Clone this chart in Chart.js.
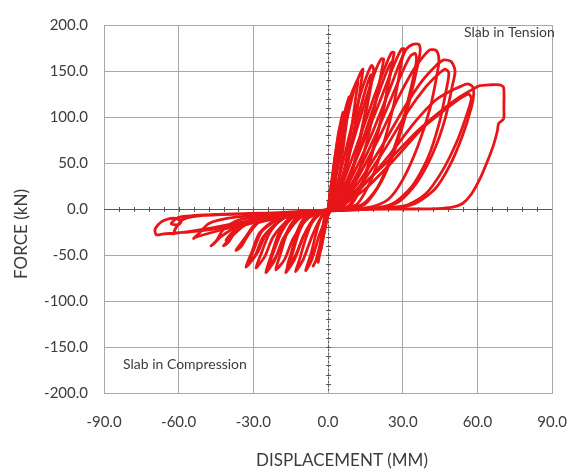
<!DOCTYPE html>
<html>
<head>
<meta charset="utf-8">
<script src="https://cdn.jsdelivr.net/npm/chart.js@4.4.1/dist/chart.umd.min.js"></script>
<style>
    html, body { margin: 0; padding: 0; background: #ffffff; }
    canvas { display: block; }
</style>
</head>
<body>
<canvas id="chart" width="587" height="472"></canvas>
<script>
// axis ticks
const xTicks = [-90, -60, -30, 0, 30, 60, 90];
const yTicks = [-200, -150, -100, -50, 0, 50, 100, 150, 200];

// loops, displacement (mm) / force (kN), in test order
const c1x = [0, 0.8, 1.5, 1.2, 0.3, -0.3, -1, -0.6, 0];
const c1y = [0, 18, 30, 20, 0, -5, -15, -6, 0];

const c2x = [0, 1.2, 2.3, 3, 2.6, 1.5, 0.6, -0.5, -1.6, -2, -1.4, -0.5, 0];
const c2y = [0, 25, 48, 60, 50, 20, 0, -8, -24, -30, -18, -4, 0];

const c3x = [0, 1.6, 3.2, 4.2, 4.5, 3.8, 2.3, 1, -0.6, -2.2, -3, -2.4, -1.2, 0];
const c3y = [0, 30, 65, 80, 85, 70, 30, 0, -10, -35, -45, -30, -8, 0];

const c4x = [0.2, 2, 4, 5.5, 6, 5.2, 3.5, 1.6, -0.5, -2.6, -3.7, -4, -3.2, -1.5, 0.2];
const c4y = [0, 38, 80, 100, 105, 88, 45, 2, -10, -40, -54, -58, -40, -10, 0];

const c5x = [0.3, 2.5, 5, 7.3, 8.5, 8, 6, 3.5, 1.5, -1, -2.5, -4.8, -6, -4.2, -1.5, 0.5];
const c5y = [0, 40, 85, 112, 122, 108, 65, 20, 0, -6, -30, -55, -62, -52, -25, 0];

const c6x = [0.5, 3, 6, 9, 11.2, 12, 11.3, 9, 6, 3, 1, -2, -4, -6.8, -9, -6.5, -3.5, -0.5, 0.5];
const c6y = [0, 40, 88, 122, 137, 140, 125, 80, 35, 5, 0, -6, -18, -48, -67, -55, -28, -8, 0];

const c7x = [0.5, 3.5, 7, 10.5, 13, 14, 13.4, 11, 7.5, 4, 1.5, -3, -6, -9, -11.5, -13, -10, -6.5, -3, 0.5];
const c7y = [0, 40, 90, 130, 148, 152, 140, 95, 45, 10, 0, -5, -12, -32, -55, -68, -55, -30, -10, 0];

const c8x = [1, 5, 9, 13, 16, 17.5, 18.3, 17.5, 14.5, 10.5, 7, 4, -2, -8, -11.5, -14.5, -17, -13.5, -10, -5, 1];
const c8y = [0, 40, 85, 125, 148, 156, 152, 138, 95, 50, 18, 2, -3, -8, -24, -50, -69, -55, -30, -8, 0];

const c8bx = [2, 6, 10, 13.5, 16, 17.3, 17, 14.5, 11, 7.5, 4.5, -3, -9, -12.5, -14.8, -16.5, -13, -9.5, -4, 2];
const c8by = [0, 35, 78, 115, 138, 146, 135, 100, 55, 20, 3, -3, -8, -25, -48, -63, -50, -28, -7, 0];

const c9x = [1, 6, 11, 15.5, 19, 21.3, 22.3, 21.5, 18.5, 14.5, 10.5, 6, -3, -12, -16, -19, -21, -17.5, -14, -8, -2, 1];
const c9y = [0, 38, 82, 122, 150, 163, 163, 150, 108, 62, 25, 3, -3, -8, -22, -48, -66, -55, -32, -10, -3, 0];

const c10x = [1.5, 7, 13, 18.5, 23, 25.5, 26.5, 25.5, 22.5, 18, 13.5, 8, -3, -15, -19.5, -22.8, -25, -21.5, -18, -12, -3, 1.5];
const c10y = [0, 36, 80, 122, 155, 170, 170, 156, 112, 65, 28, 3, -3, -9, -25, -50, -69, -56, -32, -10, -3, 0];

const c10bx = [2.5, 8, 14, 19, 23, 25, 25.8, 25, 22, 17.5, 13, 8.5, -3, -14, -18.5, -21.8, -24, -20.5, -17, -11, -3, 2.5];
const c10by = [0, 33, 76, 116, 146, 158, 160, 147, 105, 58, 22, 3, -3, -9, -24, -46, -63, -50, -29, -9, -3, 0];

const c11x = [2, 8, 15, 21.5, 26.5, 29.5, 30.5, 29.5, 26.5, 22, 17, 11, -3, -18, -23.5, -26.8, -29, -25.5, -22, -15, -4, 2];
const c11y = [0, 33, 78, 122, 157, 174, 174, 160, 115, 68, 30, 4, -3, -10, -26, -48, -64, -52, -30, -10, -3, 0];

const c12x = [2, 9, 17, 24, 29, 31.5, 34, 36.5, 37, 35.5, 31.5, 26.5, 21, 14, -4, -20, -27.5, -30.8, -33, -29.5, -26, -18, -5, 2];
const c12y = [0, 32, 78, 125, 160, 174, 179, 179, 172, 150, 105, 62, 28, 4, -3, -10, -26, -48, -63, -52, -30, -10, -3, 0];

const c12bx = [3, 10, 18, 25, 30, 33, 35, 35.5, 34, 30, 25, 19.5, 13, -4, -19, -26.5, -29.8, -31.8, -28.3, -24.8, -17, -5, 3];
const c12by = [0, 30, 74, 118, 150, 166, 169, 162, 140, 96, 55, 22, 4, -3, -10, -24, -44, -58, -47, -27, -9, -3, 0];

const c13x = [3, 11, 20, 28, 34, 38, 41, 43.5, 44.5, 44, 41, 36, 30, 24, 17, -5, -18, -29, -33, -36, -37, -35, -32, -28, -18, -5, 3];
const c13y = [0, 30, 75, 120, 150, 165, 173, 172, 163, 150, 110, 68, 32, 10, 2, -3, -9, -16, -30, -41, -45, -41, -28, -15, -8, -3, 0];

const c14x = [3, 12, 22, 31, 38, 43, 46.5, 49.5, 51, 50, 47, 42, 35.5, 28.5, 21, -6, -20, -33, -38, -41, -42, -40, -37, -32, -20, -6, 3];
const c14y = [0, 28, 70, 112, 140, 155, 162, 160, 150, 135, 98, 60, 28, 8, 1, -3, -9, -17, -28, -37, -40, -36, -24, -13, -7, -3, 0];

const c14bx = [4, 13, 23, 32, 39, 44, 47, 48.5, 47.5, 44.5, 40, 33.5, 26, 18, -8, -22, -34, -39, -41, -39, -35, -28, -15, -4, 4];
const c14by = [0, 26, 66, 106, 132, 146, 152, 148, 130, 92, 55, 24, 6, 1, -3, -9, -15, -27, -34, -30, -18, -10, -6, -2, 0];

const c15x = [4, 14, 25, 35, 43, 49, 53, 56, 58, 58.5, 57.5, 54, 49, 43, 35, 26, -7, -22, -37, -43, -46, -47, -45, -42, -36, -22, -7, 4];
const c15y = [0, 25, 60, 95, 118, 128, 133, 136, 133, 125, 110, 80, 48, 22, 6, 1, -3, -10, -20, -30, -38, -40, -35, -22, -12, -7, -3, 0];

const c16x = [4, 15, 27, 38, 47, 53, 56.5, 57.5, 56, 52, 46, 39, 30, -8, -25, -42, -50, -53.5, -54, -52, -48, -40, -25, -8, 4];
const c16y = [0, 22, 55, 88, 108, 120, 125, 120, 105, 75, 42, 16, 3, -3, -11, -22, -28, -31, -32, -27, -16, -10, -6, -3, 0];

const c17x = [4, -10, -28, -46, -56, -61, -62, -61, -58, -50, -30, -10, 0, -12, -30, -50, -60, -66, -69, -69.5, -67, -62, -59, -60, -63, -60, -45, -20, 0];
const c17y = [0, -4, -12, -22, -25, -26, -27, -20, -11, -7, -5, -3, -1, -5, -12, -22, -26, -27, -28, -22, -14, -10, -13, -17, -16, -9, -6, -4, -1];

const c18x = [0, 2, 12, 24, 36, 46, 53, 58, 61, 65, 69, 70.5, 70.6, 70.5, 68.5, 68, 66.5, 64, 61, 57.5, 54, 50, 44, 30, 15];
const c18y = [-1, 0, 22, 52, 85, 108, 122, 130, 134, 135, 135, 132, 110, 98, 93, 85, 70, 52, 33, 16, 6, 2, 0.5, 0, 0];

const cyclesX = [c1x, c2x, c3x, c4x, c5x, c6x, c7x, c8x, c8bx, c9x, c10x, c10bx, c11x, c12x, c12bx, c13x, c14x, c14bx, c15x, c16x, c17x, c18x];
const cyclesY = [c1y, c2y, c3y, c4y, c5y, c6y, c7y, c8y, c8by, c9y, c10y, c10by, c11y, c12y, c12by, c13y, c14y, c14by, c15y, c16y, c17y, c18y];

const lineRed = '#e81618';
const gridGray = '#a8a8a8';
const textGray = '#3c3c3c';
const fontFamily = 'Lato, "Open Sans", sans-serif';

const datasets = cyclesX.map((xs, i) => ({
    data: xs.map((x, j) => ({ x, y: cyclesY[i][j] })),
    showLine: true,
    borderColor: lineRed,
    borderWidth: 2.8,
    pointRadius: 0,
    tension: 0.25,
    fill: false,
}));

// dark zero axes with minor ticks, like the spreadsheet default
const zeroAxes = {
    id: 'zeroAxes',
    beforeDatasetsDraw(chart) {
        const { ctx, scales: { x, y } } = chart;
        const x0 = x.getPixelForValue(0);
        const y0 = y.getPixelForValue(0);
        ctx.save();
        ctx.strokeStyle = '#555555';
        ctx.lineWidth = 1;

        ctx.beginPath();
        ctx.moveTo(x.left, y0 + 0.5);
        ctx.lineTo(x.right, y0 + 0.5);
        ctx.stroke();
        for (let v = -84; v <= 84; v += 6) {
            if (v === 0) continue;
            const px = Math.round(x.getPixelForValue(v)) + 0.5;
            ctx.beginPath();
            ctx.moveTo(px, y0 - 2);
            ctx.lineTo(px, y0 + 3);
            ctx.stroke();
        }

        ctx.setLineDash([2, 2]);
        ctx.beginPath();
        ctx.moveTo(x0 + 0.5, y.top);
        ctx.lineTo(x0 + 0.5, y.bottom);
        ctx.stroke();
        ctx.setLineDash([]);
        for (let v = -190; v <= 190; v += 10) {
            if (v === 0) continue;
            const py = Math.round(y.getPixelForValue(v)) + 0.5;
            ctx.beginPath();
            ctx.moveTo(x0 - 2, py);
            ctx.lineTo(x0 + 3, py);
            ctx.stroke();
        }
        ctx.restore();
    },
    afterDraw(chart) {
        const { ctx } = chart;
        ctx.save();
        ctx.fillStyle = textGray;
        ctx.font = `14px ${fontFamily}`;
        ctx.textBaseline = 'middle';
        ctx.textAlign = 'left';
        ctx.fillText('Slab in Tension', 464, 32);
        ctx.fillText('Slab in Compression', 123, 364);

        ctx.font = `17px ${fontFamily}`;
        ctx.textAlign = 'center';
        ctx.fillText('DISPLACEMENT (MM)', 342, 461);
        ctx.translate(22, 234);
        ctx.rotate(-Math.PI / 2);
        ctx.fillText('FORCE (kN)', 0, 0);
        ctx.restore();
    },
};

new Chart(document.getElementById('chart'), {
    type: 'scatter',
    data: { datasets },
    options: {
        responsive: false,
        animation: false,
        devicePixelRatio: 1,
        layout: { padding: { top: 16, right: 19, left: 0, bottom: 0 } },
        plugins: {
            legend: { display: false },
            tooltip: { enabled: false },
        },
        scales: {
            x: {
                type: 'linear',
                min: xTicks[0],
                max: xTicks[xTicks.length - 1],
                afterBuildTicks: (scale) => { scale.ticks = xTicks.map((value) => ({ value })); },
                afterFit: (scale) => { scale.height = 79; },
                grid: { color: gridGray, lineWidth: 1, drawTicks: false },
                border: { color: gridGray },
                ticks: {
                    color: textGray,
                    padding: 20,
                    font: { family: fontFamily, size: 15 },
                    callback: (v) => Number(v).toFixed(1),
                },
            },
            y: {
                type: 'linear',
                min: yTicks[0],
                max: yTicks[yTicks.length - 1],
                afterBuildTicks: (scale) => { scale.ticks = yTicks.map((value) => ({ value })); },
                afterFit: (scale) => { scale.width = 104; },
                grid: { color: gridGray, lineWidth: 1, drawTicks: false },
                border: { color: gridGray },
                ticks: {
                    color: textGray,
                    padding: 16,
                    font: { family: fontFamily, size: 15 },
                    callback: (v) => Number(v).toFixed(1),
                },
            },
        },
    },
    plugins: [zeroAxes],
});
</script>
</body>
</html>
